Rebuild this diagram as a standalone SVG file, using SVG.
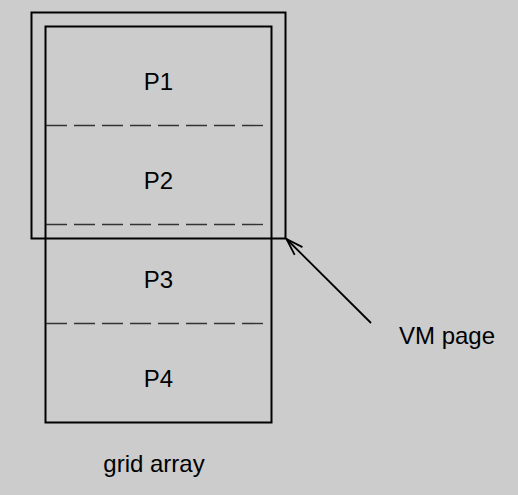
<svg xmlns="http://www.w3.org/2000/svg" width="518" height="495" viewBox="0 0 518 495">
  <style>
    .box { fill: none; stroke: #000; stroke-width: 2; }
    .sep { stroke: #333; stroke-width: 1.4; stroke-dasharray: 21 7; fill: none; }
    .lbl { font-family: "Liberation Sans", Arial, sans-serif; font-size: 24px; fill: #000; }
    .conn { stroke: #000; stroke-width: 1.8; fill: none; }
  </style>
  <defs>
    <marker id="open" markerUnits="userSpaceOnUse" markerWidth="40" markerHeight="40" refX="0" refY="0" viewBox="-20 -20 40 40" orient="auto" overflow="visible">
      <path d="M -17 -5.5 L 0 0 L -17 5.5" fill="none" stroke="#000" stroke-width="1.8"/>
    </marker>
  </defs>
  <rect x="0" y="0" width="518" height="495" fill="#cccccc"/>
  <g id="grid-array">
    <rect class="box" x="45.5" y="26.5" width="226" height="396"/>
    <line class="sep" x1="46" y1="125.5" x2="270" y2="125.5"/>
    <line class="sep" x1="46" y1="224.5" x2="270" y2="224.5"/>
    <line class="sep" x1="46" y1="323.5" x2="270" y2="323.5"/>
    <text class="lbl" x="154" y="472" text-anchor="middle">grid array</text>
  </g>
  <g id="P1"><text class="lbl" x="158.5" y="90" text-anchor="middle">P1</text></g>
  <g id="P2"><text class="lbl" x="158.5" y="189" text-anchor="middle">P2</text></g>
  <g id="P3"><text class="lbl" x="158.5" y="288" text-anchor="middle">P3</text></g>
  <g id="P4"><text class="lbl" x="158.5" y="387" text-anchor="middle">P4</text></g>
  <g id="vm-page-box">
    <rect class="box" x="31.5" y="12.5" width="254" height="226"/>
  </g>
  <g id="vm-page-label">
    <text class="lbl" x="399" y="344">VM page</text>
  </g>
  <g id="connectors">
    <line class="conn" x1="371" y1="323" x2="286.5" y2="239" marker-end="url(#open)"/>
  </g>
</svg>
